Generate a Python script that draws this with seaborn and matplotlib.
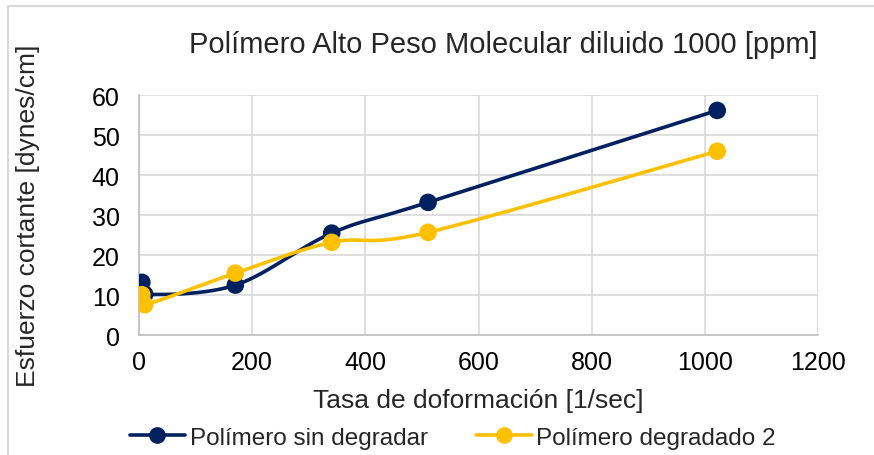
import numpy as np
import pandas as pd
import matplotlib
matplotlib.use("Agg")
import matplotlib.pyplot as plt
from matplotlib.lines import Line2D
import seaborn as sns

# Shear rate [1/sec] and shear stress [dynes/cm] readings
shear_rate = [5.11, 10.22, 170.3, 340.6, 510.9, 1021.8]
stress_sin_degradar = [13.2, 10.2, 12.5, 25.5, 33.2, 56.2]
stress_degradado_2 = [10.1, 7.6, 15.5, 23.2, 25.7, 46.0]
series_names = ["Polímero sin degradar", "Polímero degradado 2"]
series_colors = ["#002060", "#FFC000"]
x_ticks = [0, 200, 400, 600, 800, 1000, 1200]
y_ticks = [0, 10, 20, 30, 40, 50, 60]

sns.set_theme(style="white")
plt.rcParams["font.family"] = ["Liberation Sans", "DejaVu Sans"]

fig = plt.figure(figsize=(8.74, 4.56), dpi=100)
ax = fig.add_axes([0.159, 0.263, 0.777, 0.526])

XMAX, YMAX = 1200, 60
W_PX, H_PX = 679.0, 240.0


def smooth_curve(xs, ys, n=40):
    """Bezier smoothing through the points, computed in screen-like units."""
    px = np.asarray(xs, float) / XMAX * W_PX
    py = np.asarray(ys, float) / YMAX * H_PX
    pts = np.column_stack([px, py])
    out = []
    m = len(pts)
    for i in range(m - 1):
        p0 = pts[i - 1] if i > 0 else pts[i]
        p1 = pts[i]
        p2 = pts[i + 1]
        p3 = pts[i + 2] if i + 2 < m else pts[i + 1]
        c1 = p1 + (p2 - p0) / 6.0
        c2 = p2 - (p3 - p1) / 6.0
        t = np.linspace(0, 1, n)[:, None]
        seg = ((1 - t) ** 3) * p1 + 3 * ((1 - t) ** 2) * t * c1 + 3 * (1 - t) * t ** 2 * c2 + t ** 3 * p2
        out.append(seg if i == 0 else seg[1:])
    seg = np.vstack(out)
    return seg[:, 0] / W_PX * XMAX, seg[:, 1] / H_PX * YMAX


df = pd.DataFrame({
    "x": shear_rate * 2,
    "y": stress_sin_degradar + stress_degradado_2,
    "serie": [series_names[0]] * len(shear_rate) + [series_names[1]] * len(shear_rate),
})

for name, color, ys in zip(series_names, series_colors, [stress_sin_degradar, stress_degradado_2]):
    cx, cy = smooth_curve(shear_rate, ys)
    ax.plot(cx, cy, color=color, lw=2.6, solid_capstyle="round", zorder=3)

sns.scatterplot(data=df, x="x", y="y", hue="serie", palette=series_colors,
                s=160, edgecolor="none", ax=ax, legend=False, zorder=4)

ax.set_xlim(0, XMAX)
ax.set_ylim(0, YMAX)
ax.set_xticks(x_ticks)
ax.set_yticks(y_ticks)
ax.grid(True, color="#d9d9d9", lw=1.2)
ax.set_axisbelow(True)
for side in ["top", "right"]:
    ax.spines[side].set_visible(False)
for side in ["left", "bottom"]:
    ax.spines[side].set_color("#bfbfbf")
    ax.spines[side].set_linewidth(1.2)
ax.tick_params(axis="both", labelsize=18, length=0, colors="#000000")
ax.tick_params(axis="x", pad=11)
ax.tick_params(axis="y", pad=14)

ax.set_xlabel("Tasa de doformación [1/sec]", fontsize=19, labelpad=10)
ax.set_ylabel("Esfuerzo cortante [dynes/cm]", fontsize=19, labelpad=37)
fig.text(503 / 874, 1 - 45 / 456, "Polímero Alto Peso Molecular diluido 1000 [ppm]",
         fontsize=21, ha="center", va="center")

handles = [Line2D([], [], color=c, lw=2.6, marker="o", markersize=11) for c in series_colors]
fig.legend(handles, series_names, loc="center", bbox_to_anchor=(0.518, 0.038), ncol=2,
           frameon=False, fontsize=17.5, handlelength=2.3, columnspacing=1.95, handletextpad=0.2)

# outer chart frame
fig.add_artist(Line2D([8 / 874, 8 / 874], [0, 1 - 7 / 456], transform=fig.transFigure, color="#d9d9d9", lw=1.5))
fig.add_artist(Line2D([8 / 874, 1], [1 - 7 / 456, 1 - 7 / 456], transform=fig.transFigure, color="#d9d9d9", lw=1.5))

fig.savefig("out.png", dpi=100)
